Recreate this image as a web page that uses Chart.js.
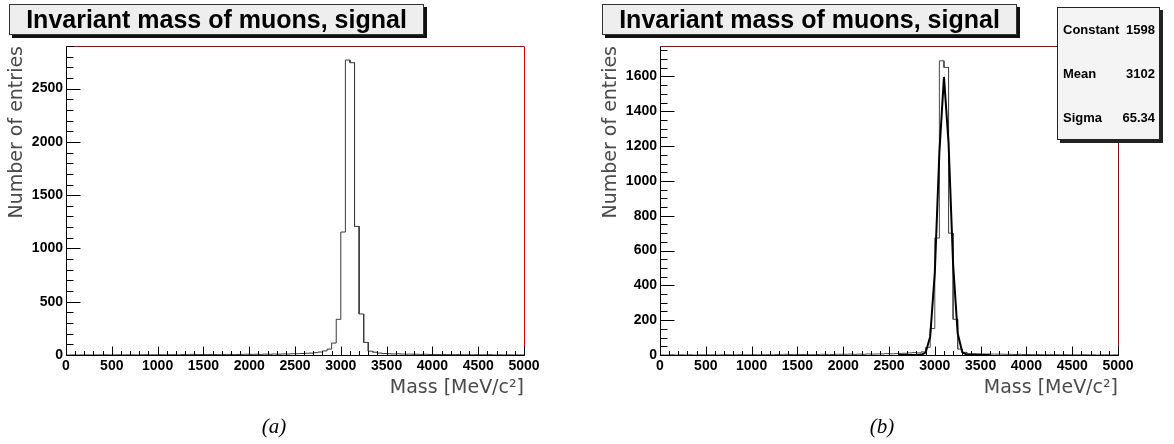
<!DOCTYPE html>
<html>
<head>
<meta charset="utf-8">
<title>Invariant mass of muons, signal</title>
<script src="https://cdn.jsdelivr.net/npm/chart.js@4.4.0/dist/chart.umd.min.js"></script>
<style>
  body { margin: 0; background: #fff; }
  #page { position: relative; width: 1174px; height: 444px; overflow: hidden; font-family: "Liberation Sans", Arial, sans-serif; }
  canvas { position: absolute; top: 0; }
  .title-box {
    position: absolute; top: 4px; width: 415px; height: 31px; box-sizing: border-box;
    border: 1px solid #333; background: #eeeeee; box-shadow: 3px 3px 0 #111;
    font-weight: bold; font-size: 25px; line-height: 29px; text-align: center; white-space: nowrap; color: #000;
  }
  .caption {
    position: absolute; top: 413px; width: 60px; margin-left: -30px; text-align: center;
    font-family: "Liberation Serif", "DejaVu Serif", serif; font-style: italic; font-size: 21px; line-height: 26px;
  }
  #fit-stats {
    position: absolute; left: 1057px; top: 7px; width: 103px; height: 133px; box-sizing: border-box;
    border: 1px solid #222; background: #f4f4f4; box-shadow: 3px 3px 0 #222;
    display: grid; grid-template-rows: 1fr 1fr 1fr; font-weight: bold; font-size: 13px;
  }
  #fit-stats .row { display: flex; justify-content: space-between; align-items: center; padding: 0 4px 0 5px; }
</style>
</head>
<body>
<div id="page">
  <canvas id="chart-a" width="587" height="444" style="left:0"></canvas>
  <canvas id="chart-b" width="580" height="444" style="left:594px"></canvas>
  <div class="title-box" style="left:9px">Invariant mass of muons, signal</div>
  <div class="title-box" style="left:602px">Invariant mass of muons, signal</div>
  <div id="fit-stats"></div>
  <div class="caption" style="left:274px">(a)</div>
  <div class="caption" style="left:882px">(b)</div>
</div>
<script>
// 100 bins of 50 MeV/c^2 between 0 and 5000
const binWidth = 50;
const massMin = 0;
const massMax = 5000;

const massTicks = [0, 500, 1000, 1500, 2000, 2500, 3000, 3500, 4000, 4500, 5000];
const entriesTicksA = [0, 500, 1000, 1500, 2000, 2500];
const entriesTicksB = [0, 200, 400, 600, 800, 1000, 1200, 1400, 1600];

// bin contents, signal sample (a)
const countsA = [
  0, 1, 0, 1, 1, 0, 1, 1, 2, 1,
  1, 2, 1, 2, 2, 1, 2, 3, 2, 2,
  3, 2, 3, 3, 2, 4, 3, 6, 5, 4,
  4, 5, 4, 3, 5, 6, 4, 5, 6, 7,
  6, 7, 6, 8, 7, 9, 8, 10, 9, 12,
  12, 14, 16, 18, 22, 28, 38, 55, 112, 335,
  1154, 2768, 2743, 1207, 385, 118, 36, 26, 18, 14,
  12, 10, 11, 9, 8, 8, 7, 6, 7, 5,
  5, 4, 5, 4, 3, 4, 3, 3, 2, 3,
  2, 2, 3, 1, 2, 1, 2, 1, 1, 1
];

// bin contents, fitted sample (b)
const countsB = [
  0, 0, 1, 0, 1, 0, 1, 0, 1, 1,
  1, 1, 0, 1, 2, 1, 1, 2, 1, 1,
  2, 1, 2, 2, 1, 3, 2, 4, 3, 2,
  3, 3, 2, 2, 3, 4, 3, 3, 4, 4,
  4, 5, 4, 5, 4, 6, 5, 6, 6, 8,
  7, 8, 9, 10, 12, 14, 12, 18, 44, 152,
  672, 1690, 1652, 700, 205, 34, 15, 8, 8, 7,
  6, 6, 5, 5, 5, 4, 4, 3, 4, 3,
  3, 2, 3, 2, 2, 2, 2, 1, 2, 1,
  1, 1, 2, 1, 1, 0, 1, 1, 0, 1
];

// gaussian fit parameters shown in the stats box
const fitConstant = 1598;
const fitMean = 3102;
const fitSigma = 65.34;
const fitRange = [2600, 3600];

const yMaxA = 2900;
const yMaxB = 1775;

function histOutline(counts) {
  const pts = [];
  counts.forEach((n, i) => {
    const lo = massMin + i * binWidth;
    pts.push({ x: lo, y: n }, { x: lo + binWidth, y: n });
  });
  return pts;
}

function fitCurve() {
  const pts = [];
  for (let m = fitRange[0]; m <= fitRange[1]; m += binWidth) {
    const t = (m - fitMean) / fitSigma;
    pts.push({ x: m, y: fitConstant * Math.exp(-0.5 * t * t) });
  }
  return pts;
}

// ROOT style frame: inward ticks, black axes, dark red top/right edges
const rootFrame = {
  id: 'rootFrame',
  afterDraw(chart, args, opts) {
    const { ctx, chartArea, scales } = chart;
    const { left, right, top, bottom } = chartArea;
    const xs = scales.x, ys = scales.y;
    const L = Math.round(left) + 0.5, R = Math.round(right) + 0.5;
    const T = Math.round(top) + 0.5, B = Math.round(bottom) + 0.5;
    ctx.save();
    ctx.lineWidth = 1;
    ctx.strokeStyle = opts.topColor;
    ctx.beginPath(); ctx.moveTo(L, T); ctx.lineTo(R, T); ctx.stroke();
    ctx.strokeStyle = opts.rightColor;
    ctx.beginPath(); ctx.moveTo(R, T); ctx.lineTo(R, B); ctx.stroke();

    ctx.strokeStyle = '#000';
    ctx.beginPath();
    ctx.moveTo(L, T); ctx.lineTo(L, B); ctx.lineTo(R, B);
    for (let v = massMin; v <= massMax; v += 100) {
      const px = Math.round(xs.getPixelForValue(v)) + 0.5;
      const len = v % 500 === 0 ? 9 : 4.5;
      ctx.moveTo(px, B); ctx.lineTo(px, B - len);
    }
    for (let v = 0; v <= ys.max; v += opts.yMinor) {
      const py = Math.round(ys.getPixelForValue(v)) + 0.5;
      const len = v % opts.yMajor === 0 ? 14 : 7;
      ctx.moveTo(L, py); ctx.lineTo(L + len, py);
    }
    ctx.stroke();
    ctx.restore();
  }
};

const tickFont = { family: '"Liberation Sans", Arial, sans-serif', size: 14, weight: 'bold' };
const titleFont = { family: '"DejaVu Sans", sans-serif', size: 19 };

function makeChart(canvasId, datasets, yTicks, yMax, frame, rightPad) {
  return new Chart(document.getElementById(canvasId), {
    type: 'line',
    data: { datasets },
    plugins: [rootFrame],
    options: {
      responsive: false,
      animation: false,
      layout: { padding: { left: 0, top: 46, right: rightPad, bottom: 40 } },
      elements: { point: { radius: 0 }, line: { tension: 0 } },
      plugins: { legend: { display: false }, tooltip: { enabled: false }, rootFrame: frame },
      scales: {
        x: {
          type: 'linear', min: massMin, max: massMax,
          grid: { display: false, drawTicks: false, tickLength: 0 },
          border: { display: false },
          afterBuildTicks: s => { s.ticks = massTicks.map(v => ({ value: v })); },
          afterFit: s => { s.height = 49; },
          ticks: { autoSkip: false, maxRotation: 0, padding: 3, color: '#000', font: tickFont, callback: v => String(v) },
          title: { display: true, text: 'Mass [MeV/c²]', align: 'end', color: '#4a4a4a', font: titleFont, padding: { top: 0, bottom: 5 } }
        },
        y: {
          type: 'linear', min: 0, max: yMax,
          grid: { display: false, drawTicks: false, tickLength: 0 },
          border: { display: false },
          afterBuildTicks: s => { s.ticks = yTicks.map(v => ({ value: v })); },
          afterFit: s => { s.width = 66; },
          ticks: { autoSkip: false, padding: 3, color: '#000', font: tickFont, callback: v => String(v) },
          title: { display: true, text: 'Number of entries', align: 'end', color: '#4a4a4a', font: titleFont, padding: { top: 6, bottom: 0 } }
        }
      }
    }
  });
}

makeChart('chart-a', [
  { data: histOutline(countsA), borderColor: '#3a3a3a', borderWidth: 1, fill: false }
], entriesTicksA, yMaxA, { topColor: '#7a1e1e', rightColor: '#d40000', yMajor: 500, yMinor: 100 }, 63);

makeChart('chart-b', [
  { data: fitCurve(), borderColor: '#000', borderWidth: 2, fill: false },
  { data: histOutline(countsB), borderColor: '#4a4a4a', borderWidth: 1, fill: false }
], entriesTicksB, yMaxB, { topColor: '#7a1e1e', rightColor: '#8b1010', yMajor: 200, yMinor: 50 }, 56);

// fit results box
const stats = document.getElementById('fit-stats');
[['Constant', fitConstant], ['Mean', fitMean], ['Sigma', fitSigma]].forEach(([name, val]) => {
  const row = document.createElement('div');
  row.className = 'row';
  row.innerHTML = `<span>${name}</span><span>${val}</span>`;
  stats.appendChild(row);
});
</script>
</body>
</html>
